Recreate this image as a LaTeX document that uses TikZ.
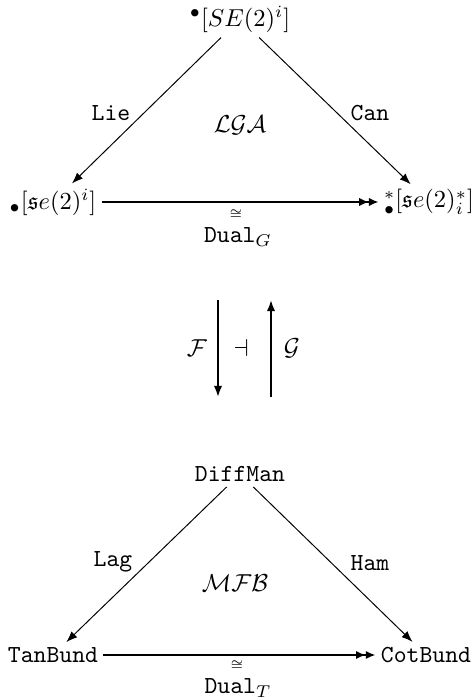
\documentclass[tikz,border=0pt]{standalone}
\usepackage{amsmath,amssymb}
\usetikzlibrary{arrows.meta}
\begin{document}
\begin{tikzpicture}[x=0.4082pt,y=-0.4082pt,
  obj/.style={inner sep=2pt},
  lbl/.style={inner sep=0pt},
  thin arr/.style={line width=0.4pt,-{Latex[length=4.5pt,width=3.4pt]}},
  iso arr/.style={line width=0.8pt,-{Latex[length=4pt,width=3.4pt]Latex[length=4pt,width=3.4pt]}},
  adj arr/.style={line width=0.8pt,-{Latex[length=4.5pt,width=3.4pt]}}]
\useasboundingbox (0,0) rectangle (471,698);
% top triangle
\node[obj] (se) at (240,19) {${}^{\bullet}[SE(2)^i]$};
\node[obj] (lie) at (53,202) {${}_{\bullet}[\mathfrak{s}e(2)^i]$};
\node[obj] (can) at (429,202) {${}^{*}_{\bullet}[\mathfrak{s}e(2)^{*}_{i}]$};
\draw[thin arr] (se) -- (lie);
\draw[thin arr] (se) -- (can);
\draw[iso arr] (lie) -- (can);
\node[lbl] (liel) at (111,113) {\texttt{Lie}};
\node[lbl] (canl) at (370,113) {\texttt{Can}};
\node[lbl] (lga) at (240,125) {$\mathcal{LGA}$};
\node[lbl] (isog) at (236,214) {$\scriptscriptstyle\cong$};
\node[lbl] (dualg) at (238,237) {$\mathtt{Dual}_G$};
% adjunction
\coordinate (fa) at (218,300);
\coordinate (fb) at (218,397);
\coordinate (ga) at (271,397);
\coordinate (gb) at (271,300);
\draw[adj arr] (fa) -- (fb);
\draw[adj arr] (ga) -- (gb);
\node[lbl] (ff) at (197,348) {$\mathcal{F}$};
\node[lbl] (dash) at (241,348) {$\dashv$};
\node[lbl] (gg) at (292,348) {$\mathcal{G}$};
% bottom triangle
\node[obj] (dm) at (240,474) {\texttt{DiffMan}};
\node[obj] (tb) at (53,655) {\texttt{TanBund}};
\node[obj] (cb) at (426,655) {\texttt{CotBund}};
\draw[thin arr] (dm) -- (tb);
\draw[thin arr] (dm) -- (cb);
\draw[iso arr] (tb) -- (cb);
\node[lbl] (lagl) at (113,562) {\texttt{Lag}};
\node[lbl] (haml) at (370,563) {\texttt{Ham}};
\node[lbl] (mfb) at (235,583) {$\mathcal{MFB}$};
\node[lbl] (isot) at (237,665) {$\scriptscriptstyle\cong$};
\node[lbl] (dualt) at (238,688) {$\mathtt{Dual}_T$};
\end{tikzpicture}
\end{document}
